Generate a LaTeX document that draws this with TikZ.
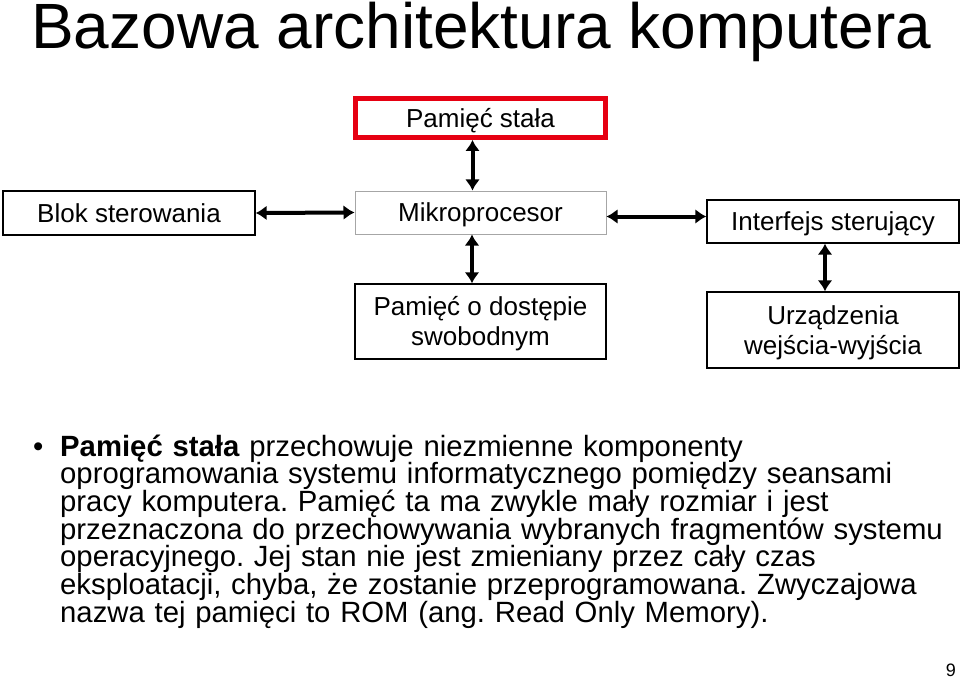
\documentclass[tikz,border=0pt]{standalone}
\usepackage{fontspec}
\setmainfont{Liberation Sans}
\usepackage{tikz}
\usetikzlibrary{arrows.meta}
\usetikzlibrary{positioning}
\definecolor{romred}{RGB}{230,0,18}
\colorlet{mygray}{black!35}
\tikzset{
  unit box/.style={draw=black,line width=1.3pt,align=center,inner sep=0,
    font=\fontsize{26}{30}\selectfont,minimum width=251pt,text height=18.6pt,text depth=0pt},
  box one/.style={unit box,minimum height=43pt},
  box two/.style={unit box,minimum height=75pt,text height=48.6pt},
  box rom/.style={unit box,draw=romred,line width=5pt,minimum width=250pt,minimum height=39pt},
  box cpu/.style={box one,draw=mygray,line width=1pt},
  link/.style={{Latex[length=11pt,width=15pt]}-{Latex[length=11pt,width=15pt]},line width=4pt},
  body/.style={inner sep=0,font=\fontsize{29.3}{27.7}\selectfont}
}

\begin{document}
\frenchspacing
\setlength{\lineskiplimit}{-100pt}
\begin{tikzpicture}[x=1pt,y=-1pt]
    \useasboundingbox (0,0) rectangle (960,679);

    % Title
    \node[anchor=base west,inner sep=0,text height=44pt,text depth=0pt,font=\fontsize{64}{64}\selectfont] (title) at (31,49) {Bazowa architektura komputera};

    % Draw the boxes
    \node[box rom] (rom) at (480.5,118) {Pamięć stała};
    \node[box one,minimum width=252pt,minimum height=44pt] (blok) at (129,213) {Blok sterowania};
    \node[box cpu] (cpu) at (480.5,212.5) {Mikroprocesor};
    \node[box one,minimum width=252pt] (inter) at (833,221.5) {Interfejs sterujący};
    \node[box two] (ram) at (480.5,321.5) {Pamięć o dostępie\\swobodnym};
    \node[box two,minimum width=252pt,minimum height=76pt] (io) at (833,330) {Urządzenia\\wejścia-wyjścia};

    % Connect the boxes
    \draw[link] ([xshift=-8pt]rom.south) -- ([xshift=-8pt]cpu.north);
    \draw[link] (blok.east) -- (cpu.west);
    \draw[link] ([yshift=-4pt]cpu.east) -- ([yshift=5pt]inter.west);
    \draw[link] ([xshift=-8.5pt]cpu.south) -- ([xshift=-8.5pt]ram.north);
    \draw[link] ([xshift=-8pt]inter.south) -- ([xshift=-8pt]io.north);

    % Description
    \node[body,anchor=base west] (bullet) at (33,456) {•};
    \node[body,anchor=base west,text width=900pt,align=left] (text) at (60,456)
      {\textbf{Pamięć stała} przechowuje niezmienne komponenty\\
       oprogramowania systemu informatycznego pomiędzy seansami\\
       pracy komputera. Pamięć ta ma zwykle mały rozmiar i jest\\
       przeznaczona do przechowywania wybranych fragmentów systemu\\
       operacyjnego. Jej stan nie jest zmieniany przez cały czas\\
       eksploatacji, chyba, że zostanie przeprogramowana. Zwyczajowa\\
       nazwa tej pamięci to ROM (ang. Read Only Memory).};

    % Page number
    \node[anchor=base east,inner sep=0,text depth=0pt,font=\fontsize{18}{18}\selectfont] (page) at (956,676) {9};
\end{tikzpicture}
\end{document}
